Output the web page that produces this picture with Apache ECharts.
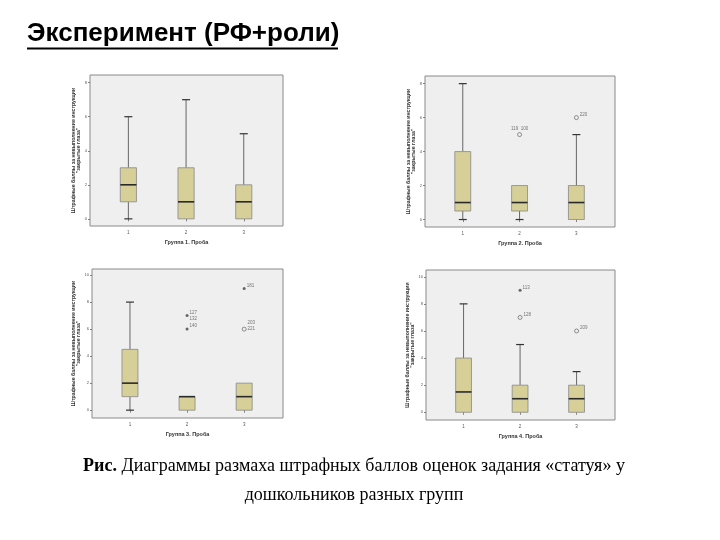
<!DOCTYPE html>
<html>
<head>
<meta charset="utf-8">
<script src="https://cdn.jsdelivr.net/npm/echarts@6/dist/echarts.min.js"></script>
<style>
html,body{margin:0;padding:0;background:#fff;}
#chart{width:720px;height:540px;}
</style>
</head>
<body>
<div id="chart"></div>
<script>
// ---- data ----
const mainTitle = 'Эксперимент (РФ+роли)';
const captionBold = 'Рис.';
const captionLine1 = ' Диаграммы размаха штрафных баллов оценок задания «статуя» у';
const captionLine2 = 'дошкольников разных групп';
const yAxisTitle = 'Штрафные баллы за невыполнение инструкции\n"закрытые глаза"';
const groupTitles = ['Группа 1. Проба', 'Группа 2. Проба', 'Группа 3. Проба', 'Группа 4. Проба'];
const categories = [1, 2, 3];
const yTicksSmall = [0, 2, 4, 6, 8];
const yTicksLarge = [0, 2, 4, 6, 8, 10];
// box stats per category: [min, Q1, median, Q3, max]
const g1Boxes = [[0, 1, 2, 3, 6], [0, 0, 1, 3, 7], [0, 0, 1, 2, 5]];
const g2Boxes = [[0, 0.5, 1, 4, 8], [0, 0.5, 1, 2, 2], [0, 0, 1, 2, 5]];
const g3Boxes = [[0, 1, 2, 4.5, 8], [0, 0, 1, 1, 1], [0, 0, 1, 2, 2]];
const g4Boxes = [[0, 0, 1.5, 4, 8], [0, 0, 1, 2, 5], [0, 0, 1, 2, 3]];
// outliers: [category, value, label, kind]  kind 'o' = outlier, '*' = extreme
const g1Outliers = [];
const g2Outliers = [[2, 5, '119  100', 'o'], [3, 6, '220', 'o']];
const g3Outliers = [[2, 7, '127\n132', '*'], [2, 6, '140', '*'], [3, 9, '181', '*'], [3, 6, '203\n221', 'o']];
const g4Outliers = [[2, 9, '113', '*'], [2, 7, '128', 'o'], [3, 6, '209', 'o']];

// ---- layout ----
const panels = [
  {boxes: g1Boxes, outliers: g1Outliers, ticks: yTicksSmall, yMin: -0.42, yMax: 8.45, grid: {left: 90, top: 75, width: 193, height: 151}},
  {boxes: g2Boxes, outliers: g2Outliers, ticks: yTicksSmall, yMin: -0.44, yMax: 8.45, grid: {left: 425, top: 76, width: 190, height: 151}},
  {boxes: g3Boxes, outliers: g3Outliers, ticks: yTicksLarge, yMin: -0.58, yMax: 10.45, grid: {left: 92, top: 269, width: 191, height: 149}},
  {boxes: g4Boxes, outliers: g4Outliers, ticks: yTicksLarge, yMin: -0.57, yMax: 10.5, grid: {left: 426, top: 270, width: 189, height: 150}}
];

const FONT = '"Liberation Sans", Arial, sans-serif';
const SERIF = '"Liberation Serif", "Times New Roman", serif';
const BOX_FILL = '#d6cf98';
const LINE = '#666';

function renderBox(params, api) {
  const x = api.value(0);
  const pMin = api.coord([x, api.value(1)]);
  const pQ1 = api.coord([x, api.value(2)]);
  const pMed = api.coord([x, api.value(3)]);
  const pQ3 = api.coord([x, api.value(4)]);
  const pMax = api.coord([x, api.value(5)]);
  const bw = api.size([0.28, 0])[0];
  const cw = api.size([0.14, 0])[0];
  const cx = pQ1[0];
  const children = [];
  const ls = {stroke: LINE, lineWidth: 1};
  if (pMax[1] < pQ3[1] - 0.1) {
    children.push({type: 'line', shape: {x1: cx, y1: pQ3[1], x2: cx, y2: pMax[1]}, style: ls});
    children.push({type: 'line', shape: {x1: cx - cw / 2, y1: pMax[1], x2: cx + cw / 2, y2: pMax[1]}, style: {stroke: '#333', lineWidth: 1.2}});
  }
  if (pMin[1] > pQ1[1] + 0.1) {
    children.push({type: 'line', shape: {x1: cx, y1: pQ1[1], x2: cx, y2: pMin[1]}, style: ls});
    children.push({type: 'line', shape: {x1: cx - cw / 2, y1: pMin[1], x2: cx + cw / 2, y2: pMin[1]}, style: {stroke: '#333', lineWidth: 1.2}});
  }
  children.push({type: 'rect', shape: {x: cx - bw / 2, y: pQ3[1], width: bw, height: pQ1[1] - pQ3[1]}, style: {fill: BOX_FILL, stroke: '#888', lineWidth: 0.8}});
  children.push({type: 'line', shape: {x1: cx - bw / 2, y1: pMed[1], x2: cx + bw / 2, y2: pMed[1]}, style: {stroke: '#2a2a2a', lineWidth: 1.6}});
  return {type: 'group', children: children};
}

const grids = [], xAxes = [], yAxes = [], series = [];
panels.forEach((p, i) => {
  grids.push(Object.assign({show: true, backgroundColor: '#efefef', borderColor: '#8a8a8a', borderWidth: 1}, p.grid));
  xAxes.push({
    type: 'value', gridIndex: i, min: 0.335, max: 3.68,
    name: groupTitles[i], nameLocation: 'middle', nameGap: 13,
    nameTextStyle: {fontFamily: FONT, fontSize: 5.5, fontWeight: 'bold', color: '#333'},
    axisLine: {show: false}, splitLine: {show: false},
    axisTick: {show: true, length: 2.5, customValues: categories, lineStyle: {color: LINE, width: 0.8}},
    axisLabel: {show: true, customValues: categories, fontFamily: FONT, fontSize: 4.5, color: '#555', margin: 4}
  });
  yAxes.push({
    type: 'value', gridIndex: i, min: p.yMin, max: p.yMax,
    name: yAxisTitle, nameLocation: 'middle', nameGap: 8, nameRotate: 90,
    nameTextStyle: {fontFamily: FONT, fontSize: 5.2, fontWeight: 'bold', color: '#333', lineHeight: 5, align: 'center'},
    axisLine: {show: false}, splitLine: {show: false},
    axisTick: {show: true, length: 2, customValues: p.ticks, lineStyle: {color: LINE, width: 0.8}},
    axisLabel: {show: true, customValues: p.ticks, fontFamily: FONT, fontSize: 4, color: '#555', margin: 3}
  });
  series.push({
    type: 'custom', xAxisIndex: i, yAxisIndex: i,
    renderItem: renderBox,
    encode: {x: 0, y: [1, 2, 3, 4, 5]},
    data: p.boxes.map((b, k) => [categories[k]].concat(b)),
    silent: true, z: 2
  });
  series.push({
    type: 'scatter', xAxisIndex: i, yAxisIndex: i, z: 3, silent: true,
    data: p.outliers.map(o => ({
      value: [o[0], o[1]], name: o[2],
      symbol: 'circle',
      symbolSize: o[3] === '*' ? 3 : 4,
      itemStyle: o[3] === '*' ? {color: '#444'} : {color: '#efefef', borderColor: '#555', borderWidth: 0.8},
      label: o[2].indexOf('  ') >= 0 ? {position: 'top', offset: [0, 1], distance: 1} :
             (o[2] === '127\n132' ? {offset: [0, 0]} : undefined)
    })),
    label: {show: true, position: 'right', distance: 1, offset: [0, -3], formatter: '{b}',
      fontFamily: FONT, fontSize: 4.5, color: '#555', lineHeight: 6}
  });
});

const chart = echarts.init(document.getElementById('chart'), null, {renderer: 'canvas'});
chart.setOption({
  backgroundColor: '#ffffff',
  animation: false,
  grid: grids, xAxis: xAxes, yAxis: yAxes, series: series,
  graphic: [
    {type: 'text', left: 27, top: 21, style: {text: mainTitle, font: 'bold 26px ' + FONT, fill: '#000'}},
    {type: 'line', shape: {x1: 27, y1: 48.5, x2: 338, y2: 48.5}, style: {stroke: '#000', lineWidth: 2}},
    {type: 'text', x: 354, y: 457, style: {
      textAlign: 'center',
      rich: {b: {fontFamily: SERIF, fontSize: 18, fontWeight: 'bold', fill: '#000'}, r: {fontFamily: SERIF, fontSize: 18, fill: '#000'}},
      text: '{b|' + captionBold + '}{r|' + captionLine1 + '}'}},
    {type: 'text', x: 354, y: 486, style: {text: captionLine2, textAlign: 'center', font: '18px ' + SERIF, fill: '#000'}}
  ]
});
</script>
</body>
</html>
